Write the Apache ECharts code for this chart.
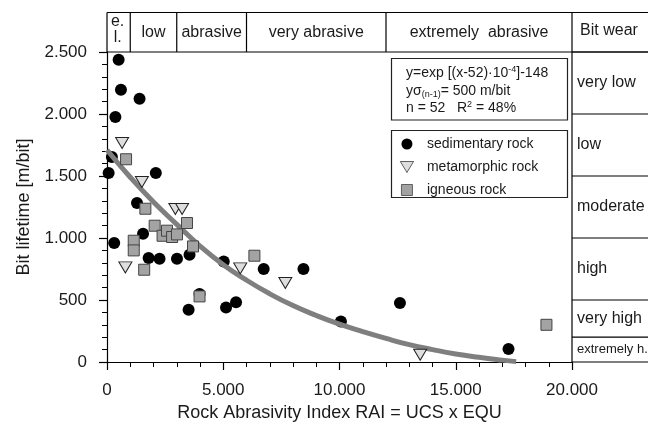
<!DOCTYPE html>
<html><head><meta charset="utf-8">
<script src="https://cdn.jsdelivr.net/npm/echarts@6/dist/echarts.min.js"></script>
<style>html,body{margin:0;padding:0;background:#fff}#c{width:648px;height:439px}</style>
</head><body><div id="c"></div>
<script>
// ---- data ----
const sedimentary = [
  [70,1524],[210,1653],[310,960],[360,1976],[500,2438],[600,2196],[1290,1282],[1400,2123],
  [1550,1035],[1790,839],[2100,1524],[2260,833],[3010,833],[3510,422],[3550,865],[3980,548],
  [5020,811],[5120,440],[5550,481],[6740,750],[8450,750],[10060,327],[12600,476],[17270,105]
];
const metamorphic = [
  [650,1766],[790,763],[1500,1452],[2940,1234],[3230,1234],[5730,755],[7670,637],[13470,59]
];
const igneous = [
  [820,1635],[1150,978],[1150,900],[1600,744],[1650,1236],[2050,1099],[2390,1018],[2580,1059],
  [2800,1008],[3010,1029],[3440,1121],[3700,932],[3980,529],[6340,857],[18900,300]
];
const fitCurve = [
  [0,1710],[1000,1490],[2000,1290],[3000,1110],[4000,935],[5000,785],[6000,660],[7000,550],
  [8000,455],[9000,375],[10000,305],[11000,245],[12000,190],[13000,140],[14000,100],
  [15000,65],[16000,38],[17000,15],[17600,3]
];
const seriesNames = ['sedimentary rock', 'metamorphic rock', 'igneous rock'];
const rockClassLabels = ['e.\nl.', 'low', 'abrasive', 'very abrasive', 'extremely  abrasive'];
const rockClassBounds = [0, 1000, 3000, 6000, 12000, 20000];
const wearHeader = 'Bit wear';
const wearClassLabels = ['very low', 'low', 'moderate', 'high', 'very high', 'extremely h.'];
const wearClassBounds = [2500, 2000, 1500, 1000, 500, 200, 0];
const xRange = [0, 20000], xStep = 5000;
const yRange = [0, 2500], yStep = 500;
const xName = 'Rock Abrasivity Index RAI = UCS x EQU';
const yName = 'Bit lifetime [m/bit]';
const eqLines = ['y=exp [(x-52)·10{sup|-4}]-148', 'yσ{sub|(n-1)}= 500 m/bit', 'n = 52   R{sup|2} = 48%'];

// ---- chart ----
const FONT = 'Liberation Sans, Arial, sans-serif';
const INK = '#1a1a1a';
const fmt = v => String(v).replace(/\B(?=(\d{3})+(?!\d))/g, '.');
const triPath = 'path://M0,0 L12,0 L6,10 Z';
const sqPath = 'path://M0,0 L10,0 L10,10 L0,10 Z';

const chart = echarts.init(document.getElementById('c'), null, {renderer: 'canvas'});
const axisCommon = {
  axisLine: {lineStyle: {color: '#000', width: 1.2}},
  axisTick: {length: 8, lineStyle: {color: '#000', width: 1.2}},
  minorTick: {show: true, splitNumber: 5, length: 5, lineStyle: {color: '#000', width: 1}},
  splitLine: {show: false},
  axisLabel: {color: INK, fontSize: 17, fontFamily: FONT, margin: 20, formatter: fmt},
  nameTextStyle: {color: INK, fontSize: 18, fontFamily: FONT}
};
chart.setOption({
  animation: false,
  backgroundColor: '#fff',
  grid: {left: 107, right: 76, top: 52, bottom: 77, containLabel: false},
  xAxis: Object.assign({type: 'value', min: xRange[0], max: xRange[1], interval: xStep,
    name: xName, nameLocation: 'middle', nameGap: 38}, axisCommon),
  yAxis: Object.assign({type: 'value', min: yRange[0], max: yRange[1], interval: yStep,
    name: yName, nameLocation: 'middle', nameGap: 74}, axisCommon),
  legend: {
    data: [
      {name: seriesNames[0], icon: 'circle'},
      {name: seriesNames[1], icon: triPath, itemStyle: {borderWidth: 0.7}},
      {name: seriesNames[2], icon: sqPath, itemStyle: {borderWidth: 0.8}}
    ],
    orient: 'vertical', left: 400, top: 137, padding: 0, itemGap: 9,
    itemWidth: 30, itemHeight: 11, z: 30,
    textStyle: {color: INK, fontSize: 14, fontFamily: FONT}
  },
  series: [
    {name: seriesNames[0], type: 'scatter', data: sedimentary, symbol: 'circle', symbolSize: 12,
      itemStyle: {color: '#000', borderColor: '#000', borderWidth: 0, opacity: 1}},
    {name: 'fit', type: 'line', data: fitCurve, smooth: true, showSymbol: false, symbol: 'none',
      lineStyle: {color: '#7f7f7f', width: 5}, z: 3},
    {name: seriesNames[1], type: 'scatter', data: metamorphic, symbol: triPath, symbolSize: [13, 11],
      itemStyle: {color: '#dedede', borderColor: '#222', borderWidth: 1, opacity: 1}, z: 4},
    {name: seriesNames[2], type: 'scatter', data: igneous, symbol: 'rect', symbolSize: 11,
      itemStyle: {color: '#a3a3a3', borderColor: '#444', borderWidth: 1, opacity: 1}, z: 5}
  ]
});

// ---- overlay tables built from axis positions ----
const X = v => chart.convertToPixel({xAxisIndex: 0}, v);
const Y = v => chart.convertToPixel({yAxisIndex: 0}, v);
const x0 = X(xRange[0]), x1 = X(xRange[1]);
const yTop = Y(yRange[1]), yBot = Y(yRange[0]);
const bandTop = 12.5, rightEdge = 648;
const g = [];
const line = (a, b, c, d, w) => g.push({type: 'line', z: 10, silent: true,
  shape: {x1: a, y1: b, x2: c, y2: d}, style: {stroke: '#000', lineWidth: w || 1.2}});
const text = (str, x, y, opts) => g.push({type: 'text', z: 12, silent: true, x: x, y: y,
  style: Object.assign({text: str, fill: INK, fontSize: 16, fontFamily: FONT,
    align: 'center', verticalAlign: 'middle', textAlign: 'center', textVerticalAlign: 'middle'}, opts || {})});

// top band
line(x0, bandTop, rightEdge, bandTop);
line(x0, yTop, rightEdge, yTop);
rockClassBounds.forEach(b => line(X(b), bandTop, X(b), yTop));
rockClassLabels.forEach((lab, i) => {
  const cx = (X(rockClassBounds[i]) + X(rockClassBounds[i + 1])) / 2;
  if (lab.indexOf('\n') >= 0) text(lab, cx - 1, (bandTop + yTop) / 2 - 3, {lineHeight: 16});
  else text(lab, cx, (bandTop + yTop) / 2);
});
text(wearHeader, (x1 + rightEdge) / 2 - 1, (bandTop + yTop) / 2 - 2);
// bit wear column
line(x1, yTop, x1, yBot);
wearClassBounds.forEach(b => line(x1, Y(b), rightEdge, Y(b)));
wearClassLabels.forEach((lab, i) => {
  const cy = (Y(wearClassBounds[i]) + Y(wearClassBounds[i + 1])) / 2;
  const small = i === wearClassLabels.length - 1;
  text(lab, x1 + 5, cy, {align: 'left', textAlign: 'left', fontSize: small ? 13 : 16});
});
// equation box
g.push({type: 'rect', z: 8, silent: true, shape: {x: 391.5, y: 58.5, width: 176, height: 61.5},
  style: {fill: '#fff', stroke: '#222', lineWidth: 1.2}});
const rich = {
  sup: {fontSize: 9, fontFamily: FONT, fill: INK, padding: [0, 0, 7, 0]},
  sub: {fontSize: 9, fontFamily: FONT, fill: INK, padding: [7, 0, 0, 0]}
};
[73.5, 91.5, 108.5].forEach((yy, i) => text(eqLines[i], 406, yy,
  {align: 'left', textAlign: 'left', fontSize: 14, rich: rich}));
// legend box (frame only, legend component drawn above)
g.push({type: 'rect', z: 1, silent: true, shape: {x: 391.5, y: 130.5, width: 176, height: 67},
  style: {fill: 'none', stroke: '#222', lineWidth: 1.2}});
chart.setOption({graphic: g});
</script></body></html>
